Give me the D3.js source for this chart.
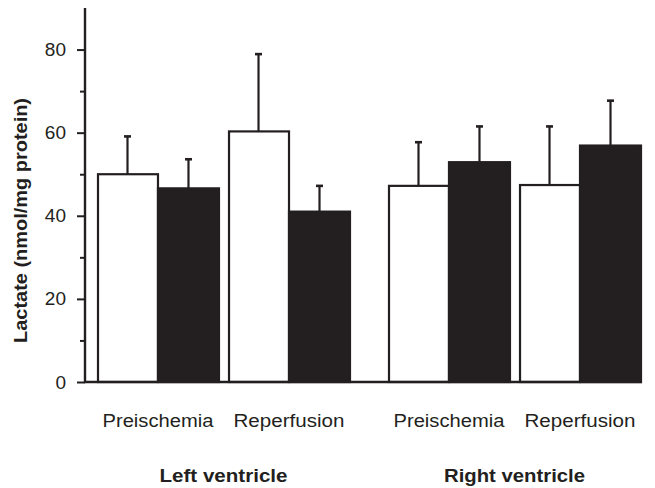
<!DOCTYPE html>
<html>
<head>
<meta charset="utf-8">
<script src="https://cdn.jsdelivr.net/npm/d3@7/dist/d3.min.js"></script>
<style>
  body { margin: 0; background: #fff; }
  svg { display: block; font-family: Arial, "Liberation Sans", sans-serif; }
</style>
</head>
<body>
<svg id="chart" width="655" height="488"></svg>
<script>
// ---- data ----
const groups = ["Left ventricle", "Right ventricle"];
const conditions = ["Preischemia", "Reperfusion"];
const series = ["open", "filled"];
// means, order: [LV Pre, LV Rep, RV Pre, RV Rep]
const openMeans   = [50.0, 60.3, 47.2, 47.4];
const openUpper   = [59.1, 78.9, 57.7, 61.5];
const filledMeans = [46.6, 41.0, 52.9, 56.9];
const filledUpper = [53.6, 47.2, 61.5, 67.7];
const yTicks = [0, 20, 40, 60, 80];
const yMinorTicks = [10, 30, 50, 70];
const yLabel = "Lactate (nmol/mg protein)";

// build rows
const rows = [];
groups.forEach((g, gi) => conditions.forEach((c, ci) => {
  const i = gi * 2 + ci;
  rows.push({group: g, cond: c, series: "open", mean: openMeans[i], upper: openUpper[i]});
  rows.push({group: g, cond: c, series: "filled", mean: filledMeans[i], upper: filledUpper[i]});
}));

const svg = d3.select("#chart");
const axisX = 85, baseY = 382, topY = 8;

const y = d3.scaleLinear().domain([0, 90]).range([baseY, topY]);
const x0 = d3.scaleBand().domain(groups).range([97, 641]).paddingInner(0.1306).paddingOuter(0);
const x1 = d3.scaleBand().domain(conditions).range([0, x0.bandwidth()]).paddingInner(0.069).paddingOuter(0);
const x2 = d3.scaleBand().domain(series).range([0, x1.bandwidth()]).padding(0);

const barX = d => x0(d.group) + x1(d.cond) + x2(d.series);
const ink = "#231f20";

// bars
svg.append("g").selectAll("rect").data(rows).join("rect")
  .attr("x", d => barX(d) + (d.series === "open" ? 1 : 0))
  .attr("y", d => y(d.mean))
  .attr("width", d => x2.bandwidth() - (d.series === "open" ? 1 : 0))
  .attr("height", d => y(0) - y(d.mean))
  .attr("fill", d => d.series === "open" ? "#fff" : ink)
  .attr("stroke", ink)
  .attr("stroke-width", 2.2);

// error bars
const eb = svg.append("g").attr("stroke", ink).attr("stroke-width", 2.2);
eb.selectAll("line.v").data(rows).join("line").attr("class", "v")
  .attr("x1", d => barX(d) + x2.bandwidth() / 2)
  .attr("x2", d => barX(d) + x2.bandwidth() / 2)
  .attr("y1", d => y(d.mean))
  .attr("y2", d => y(d.upper));
eb.selectAll("line.c").data(rows).join("line").attr("class", "c")
  .attr("x1", d => barX(d) + x2.bandwidth() / 2 - 3.5)
  .attr("x2", d => barX(d) + x2.bandwidth() / 2 + 3.5)
  .attr("y1", d => y(d.upper))
  .attr("y2", d => y(d.upper))
  .attr("stroke-width", 2.6);

// y axis
const yAxis = d3.axisLeft(y).tickValues(yTicks).tickSize(8).tickPadding(11).tickFormat(d3.format("d"));
const gy = svg.append("g").attr("transform", `translate(${axisX},0)`).call(yAxis);
gy.select(".domain").remove();
gy.selectAll(".tick line").attr("stroke", ink).attr("stroke-width", 2);
gy.selectAll(".tick text").attr("font-size", 19).attr("fill", ink)
  .attr("font-family", "Arial, 'Liberation Sans', sans-serif");
const gMinor = d3.axisLeft(y).tickValues(yMinorTicks).tickSize(5).tickFormat("");
const gm = svg.append("g").attr("transform", `translate(${axisX},0)`).call(gMinor);
gm.select(".domain").remove();
gm.selectAll(".tick line").attr("stroke", ink).attr("stroke-width", 2);

svg.append("line").attr("x1", axisX).attr("x2", axisX).attr("y1", y(90)).attr("y2", baseY + 1)
  .attr("stroke", ink).attr("stroke-width", 2.4);
svg.append("line").attr("x1", axisX - 1).attr("x2", x0.range()[1] + 1).attr("y1", baseY).attr("y2", baseY)
  .attr("stroke", ink).attr("stroke-width", 2.4);

// category labels
const catData = [];
groups.forEach(g => conditions.forEach(c => catData.push({group: g, cond: c})));
svg.append("g").selectAll("text").data(catData).join("text")
  .attr("x", d => x0(d.group) + x1(d.cond) + x1.bandwidth() / 2)
  .attr("y", 427)
  .attr("text-anchor", "middle")
  .attr("font-size", 17.5)
  .attr("fill", ink)
  .attr("textLength", 111)
  .attr("lengthAdjust", "spacingAndGlyphs")
  .text(d => d.cond);

// group labels
svg.append("g").selectAll("text").data(groups).join("text")
  .attr("x", d => x0(d) + x0.bandwidth() / 2)
  .attr("y", 481.5)
  .attr("text-anchor", "middle")
  .attr("font-size", 18.5)
  .attr("font-weight", "bold")
  .attr("fill", ink)
  .attr("textLength", (d, i) => i === 0 ? 128 : 141)
  .attr("lengthAdjust", "spacingAndGlyphs")
  .text(d => d);

// y label
svg.append("text")
  .attr("transform", `translate(27,220.5) rotate(-90)`)
  .attr("text-anchor", "middle")
  .attr("font-size", 18.5)
  .attr("font-weight", "bold")
  .attr("fill", ink)
  .attr("textLength", 245)
  .attr("lengthAdjust", "spacingAndGlyphs")
  .text(yLabel);
</script>
</body>
</html>
